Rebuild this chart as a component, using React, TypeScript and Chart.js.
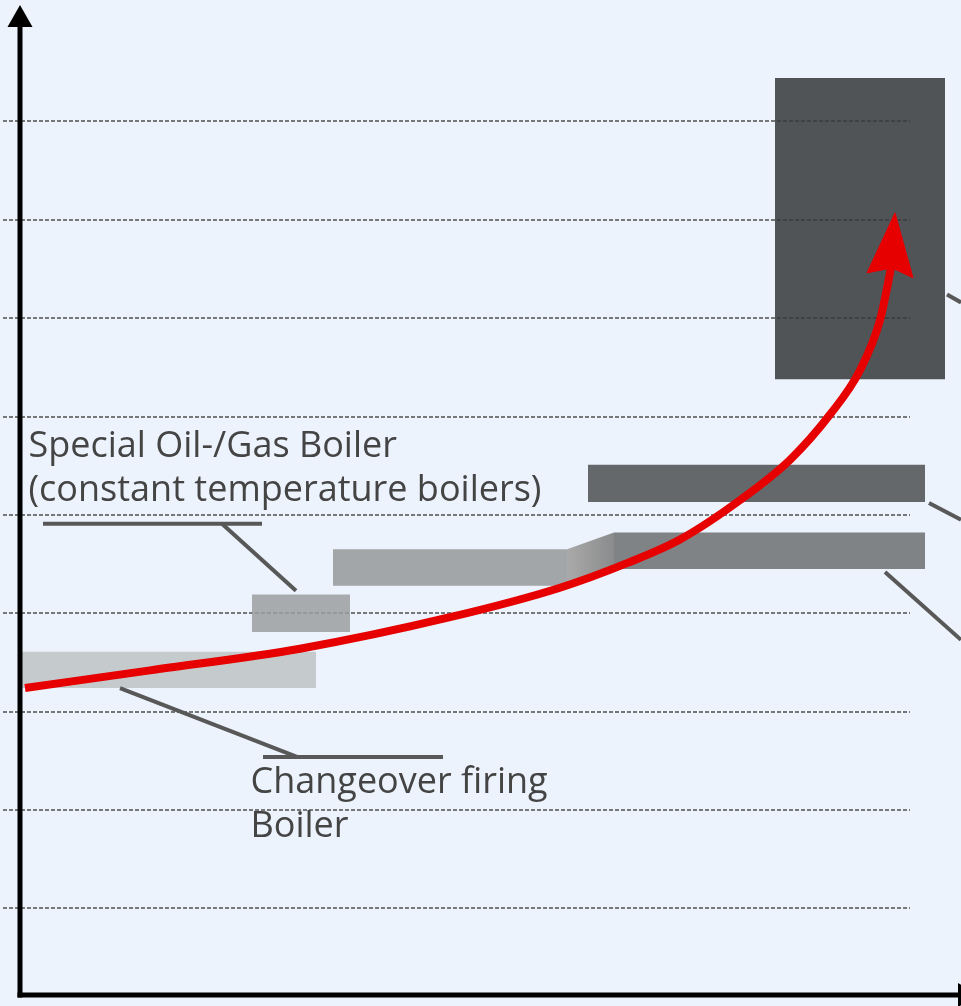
import React, { useEffect, useRef } from "react";
import { Chart, registerables } from "chart.js";

Chart.register(...registerables);

const CANVAS_W = 961;
const CANVAS_H = 1006;

// ---- data (abstract units: x 0..94.1, y 1.2..100) ----
const gridLevels = [10, 20, 30, 40, 50, 60, 70, 80, 90];
const gridSpan = [-1.7, 89.0];

const barNames = [
  "Changeover firing boiler",
  "Special oil/gas boiler",
  "Low temperature boiler",
  "Condensing boiler",
  "Upper boiler band",
  "Top range",
];
const barXStart = [0, 23.2, 31.3, 59.4, 56.8, 75.5];
const barXEnd = [29.6, 33.0, 54.7, 90.5, 90.5, 92.5];
const barYLow = [32.4, 38.1, 42.8, 44.5, 51.3, 63.8];
const barYHigh = [36.1, 41.9, 46.5, 48.2, 55.1, 94.4];
const barColors = [
  "rgba(190,194,196,0.85)",
  "rgba(156,158,160,0.85)",
  "rgba(150,152,154,0.85)",
  "rgba(109,111,113,0.85)",
  "rgba(82,84,86,0.88)",
  "rgba(55,57,59,0.86)",
];

const connectorX = [54.7, 59.4, 59.4, 54.7];
const connectorY = [46.5, 48.2, 44.5, 42.8];

const curveX = [0.5, 13.0, 28.0, 43.0, 54.0, 60.7, 66.0, 72.0, 77.0, 81.0, 84.0, 86.0, 87.0, 87.2];
const curveY = [32.4, 34.2, 36.4, 39.6, 42.6, 45.1, 47.5, 51.5, 55.6, 60.2, 64.7, 69.8, 74.6, 75.7];

const arrowX = [87.5, 89.3, 87.2, 84.7];
const arrowY = [80.7, 74.1, 75.1, 74.6];

const leaderX = [
  [2.3, 24.2],
  [20.2, 27.6],
  [10.0, 27.7],
  [24.3, 42.3],
  [92.7, 94.1],
  [90.9, 94.1],
  [86.5, 94.1],
];
const leaderY = [
  [49.1, 49.1],
  [49.1, 42.3],
  [32.4, 25.4],
  [25.4, 25.4],
  [72.4, 71.6],
  [51.2, 49.5],
  [44.2, 37.3],
];

const labelLines = [
  ["Special Oil-/Gas Boiler", "(constant temperature boilers)"],
  ["Changeover firing", "Boiler"],
];
const labelX = [0.85, 23.05];
const labelY = [55.9, 21.7];

// ---- helpers ----
const pts = (xs: number[], ys: number[]) => xs.map((x, i) => ({ x, y: ys[i] }));
const closed = (xs: number[], ys: number[]) => {
  const p = pts(xs, ys);
  return [...p, { ...p[0] }];
};

const gridPlugin = {
  id: "dashedGrid",
  beforeDatasetsDraw(chart: any) {
    const { ctx, scales } = chart;
    const xs = scales.x;
    const ys = scales.y;
    ctx.save();
    ctx.strokeStyle = "rgba(105,105,105,0.9)";
    ctx.lineWidth = 2;
    ctx.setLineDash([4, 2]);
    for (const v of gridLevels) {
      const py = Math.round(ys.getPixelForValue(v));
      ctx.beginPath();
      ctx.moveTo(xs.getPixelForValue(gridSpan[0]), py);
      ctx.lineTo(xs.getPixelForValue(gridSpan[1]), py);
      ctx.stroke();
    }
    ctx.restore();
  },
};

const overlayPlugin = {
  id: "axesAndLabels",
  afterDatasetsDraw(chart: any) {
    const { ctx, chartArea, scales } = chart;
    const { left, top, bottom } = chartArea;
    ctx.save();
    ctx.setLineDash([]);
    ctx.strokeStyle = "#000";
    ctx.fillStyle = "#000";
    ctx.lineWidth = 5;
    // y axis
    ctx.beginPath();
    ctx.moveTo(left, bottom + 2.5);
    ctx.lineTo(left, top + 4);
    ctx.stroke();
    ctx.beginPath();
    ctx.moveTo(left, top - 18);
    ctx.lineTo(left - 12.5, top + 4);
    ctx.lineTo(left + 12.5, top + 4);
    ctx.closePath();
    ctx.fill();
    // x axis
    ctx.beginPath();
    ctx.moveTo(left - 2.5, bottom);
    ctx.lineTo(CANVAS_W, bottom);
    ctx.stroke();
    ctx.beginPath();
    ctx.moveTo(CANVAS_W - 3, bottom - 12);
    ctx.lineTo(CANVAS_W + 19, bottom);
    ctx.lineTo(CANVAS_W - 3, bottom + 12);
    ctx.closePath();
    ctx.fill();

    // labels
    ctx.font = '36px "Open Sans"';
    ctx.fillStyle = "#444444";
    ctx.textBaseline = "alphabetic";
    ctx.textAlign = "left";
    labelLines.forEach((lines, i) => {
      const px = scales.x.getPixelForValue(labelX[i]);
      const py = scales.y.getPixelForValue(labelY[i]);
      lines.forEach((t, j) => ctx.fillText(t, px, py + j * 44));
    });
    ctx.restore();
  },
};

export default function App() {
  const ref = useRef<HTMLCanvasElement>(null);

  useEffect(() => {
    const canvas = ref.current;
    if (!canvas) return;

    const datasets: any[] = [];

    // red development curve
    datasets.push({
      label: "Trend",
      data: pts(curveX, curveY),
      borderColor: "#E60000",
      borderWidth: 8,
      pointRadius: 0,
      fill: false,
      tension: 0.4,
      cubicInterpolationMode: "monotone",
      order: 0,
    });
    // arrow head
    datasets.push({
      label: "Arrow",
      data: closed(arrowX, arrowY),
      borderColor: "#E60000",
      backgroundColor: "#E60000",
      borderWidth: 1,
      pointRadius: 0,
      fill: "shape",
      tension: 0,
      order: 0,
    });
    // leader lines
    leaderX.forEach((xs, i) => {
      datasets.push({
        label: "Leader " + i,
        data: pts(xs, leaderY[i]),
        borderColor: "#585858",
        borderWidth: 4,
        pointRadius: 0,
        fill: false,
        tension: 0,
        order: 1,
      });
    });
    // connector
    datasets.push({
      label: "Connector",
      data: closed(connectorX, connectorY),
      borderWidth: 0,
      pointRadius: 0,
      tension: 0,
      fill: "shape",
      backgroundColor: (c: any) => {
        const ch = c.chart;
        const sx = ch.scales && ch.scales.x;
        if (!sx || !ch.chartArea) return "#9a9a9a";
        const x0 = sx.getPixelForValue(connectorX[0]);
        const x1 = sx.getPixelForValue(connectorX[1]);
        if (!isFinite(x0) || !isFinite(x1)) return "#9a9a9a";
        const g = ch.ctx.createLinearGradient(x0, 0, x1, 0);
        g.addColorStop(0, "rgb(170,170,170)");
        g.addColorStop(1, "rgb(138,139,140)");
        return g;
      },
      order: 2,
    });
    // range bars
    barNames.forEach((name, i) => {
      datasets.push({
        label: name,
        data: closed(
          [barXStart[i], barXEnd[i], barXEnd[i], barXStart[i]],
          [barYLow[i], barYLow[i], barYHigh[i], barYHigh[i]]
        ),
        borderWidth: 0,
        pointRadius: 0,
        tension: 0,
        fill: "shape",
        backgroundColor: barColors[i],
        order: 3,
      });
    });

    const chart = new Chart(canvas, {
      type: "line",
      data: { datasets },
      options: {
        animation: false,
        responsive: false,
        devicePixelRatio: 1,
        events: [],
        layout: { padding: { left: 20, right: 0, top: 23, bottom: 11 } },
        scales: {
          x: { type: "linear", min: 0, max: 94.1, display: false },
          y: { type: "linear", min: 1.2, max: 100, display: false },
        },
        plugins: {
          legend: { display: false },
          tooltip: { enabled: false },
        },
      },
      plugins: [gridPlugin, overlayPlugin],
    } as any);

    return () => chart.destroy();
  }, []);

  return (
    <div
      style={{
        position: "fixed",
        left: 0,
        top: 0,
        width: CANVAS_W,
        height: CANVAS_H,
        background: "#ECF3FD",
        overflow: "hidden",
      }}
    >
      <canvas ref={ref} width={CANVAS_W} height={CANVAS_H} style={{ display: "block" }} />
    </div>
  );
}
